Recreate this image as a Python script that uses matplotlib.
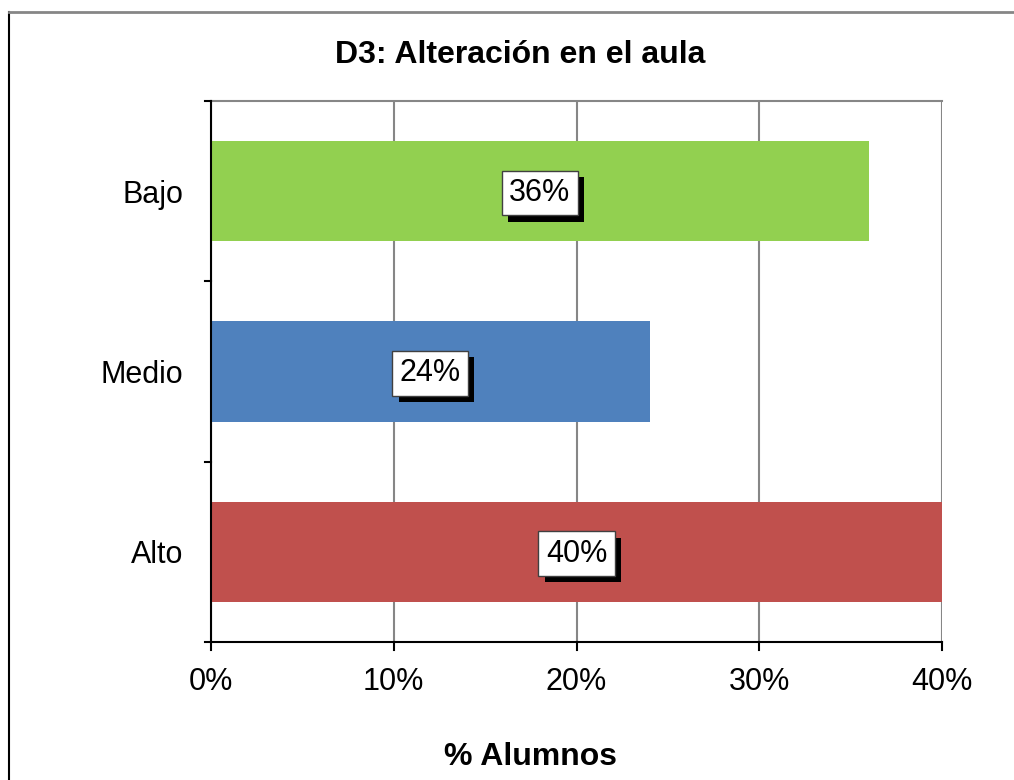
import matplotlib.pyplot as plt
from matplotlib.lines import Line2D
import matplotlib.patheffects as pe

plt.rcParams['font.family'] = ['Liberation Sans', 'DejaVu Sans']

categories = ['Alto', 'Medio', 'Bajo']
values = [40, 24, 36]
colors = ['#c0504d', '#4f81bd', '#92d050']
xticks = [0, 10, 20, 30, 40]

fig = plt.figure(figsize=(10.14, 7.8), dpi=100)
ax = fig.add_axes([211 / 1014, 138 / 780, 731 / 1014, 541 / 780])

ypos = range(len(categories))
ax.barh(ypos, values, height=0.555, color=colors, zorder=2)

ax.set_xlim(0, 40)
ax.set_ylim(-0.5, 2.5)
ax.set_xticks(xticks)
ax.set_xticklabels([f'{t}%' for t in xticks], fontsize=22)
ax.set_yticks(list(ypos))
ax.set_yticklabels(categories, fontsize=22)
ax.tick_params(axis='y', length=0, pad=20)
ax.tick_params(axis='x', length=0, pad=18)

# category boundary ticks on the y axis
for b in [-0.5, 0.5, 1.5, 2.5]:
    ax.add_line(Line2D([-0.32, 0], [b, b], color='black', lw=1.5, clip_on=False))
for t in xticks:
    ax.add_line(Line2D([t, t], [-0.5, -0.545], color='black', lw=1.5, clip_on=False))

ax.grid(axis='x', color='#868686', lw=1.5, zorder=0)
ax.axhline(2.5, color='#868686', lw=1.5, zorder=1, clip_on=False)
for s in ['top', 'right']:
    ax.spines[s].set_visible(False)
ax.spines['left'].set_linewidth(1.5)
ax.spines['bottom'].set_linewidth(1.5)
ax.spines['left'].set_zorder(3)
ax.spines['bottom'].set_zorder(3)

for y, v in zip(ypos, values):
    ax.text(v / 2, y - 0.01, f'{v}%', ha='center', va='center', fontsize=22, zorder=4,
            bbox=dict(boxstyle='square,pad=0.24', fc='white', ec='#404040', lw=1,
                      path_effects=[pe.SimplePatchShadow(offset=(4.5, -4.5),
                                                         shadow_rgbFace='black',
                                                         alpha=1), pe.Normal()]))

fig.text(0.513, 0.929, 'D3: Alteración en el aula', ha='center', va='center',
         fontsize=23, fontweight='bold')
fig.text(0.523, 0.029, '% Alumnos', ha='center', va='center',
         fontsize=23, fontweight='bold')

# outer chart frame
fig.add_artist(Line2D([9 / 1014, 9 / 1014], [0, 1 - 12 / 780], color='black', lw=1.5))
fig.add_artist(Line2D([9 / 1014, 1], [1 - 12 / 780, 1 - 12 / 780], color='#868686', lw=2))

fig.savefig('out.png', dpi=100)
